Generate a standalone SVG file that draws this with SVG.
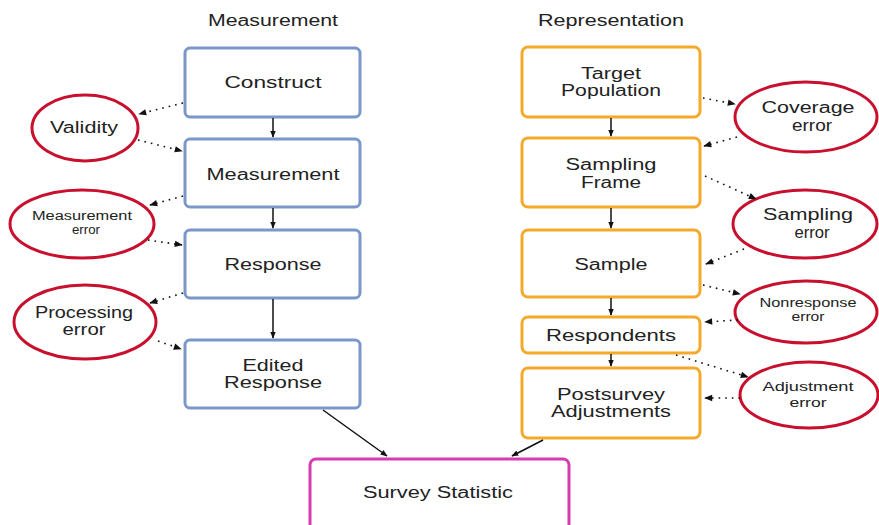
<svg xmlns="http://www.w3.org/2000/svg" width="879" height="525" viewBox="0 0 879 525">
<defs>
<marker id="ah" viewBox="0 0 10 10" refX="9" refY="5" markerWidth="7" markerHeight="7" orient="auto" markerUnits="userSpaceOnUse"><path d="M0,1 L10,5 L0,9 z" fill="#111"/></marker>
<marker id="ahd" viewBox="0 0 10 10" refX="9" refY="5" markerWidth="9" markerHeight="8" orient="auto" markerUnits="userSpaceOnUse"><path d="M0,1 L10,5 L0,9 z" fill="#111"/></marker>
</defs>
<style>
text{font-family:"Liberation Sans",Arial,sans-serif;fill:#222;text-anchor:middle}
.m{font-size:16px}
.s{font-size:12.5px}
.bl{fill:#fff;stroke:#7b96c9;stroke-width:3}
.or{fill:#fff;stroke:#f5a92a;stroke-width:3}
.pk{fill:#fff;stroke:#d63cb0;stroke-width:3}
.el{fill:#fff;stroke:#c8102e;stroke-width:3}
.solid{stroke:#111;stroke-width:1.5;fill:none;marker-end:url(#ah)}
.dot{stroke:#111;stroke-width:1.6;fill:none;stroke-dasharray:1.6 5;marker-end:url(#ahd)}
</style>
<rect width="879" height="525" fill="#fff"/>
<text class="m" x="273" y="26" textLength="130" lengthAdjust="spacingAndGlyphs">Measurement</text>
<text class="m" x="611" y="26" textLength="146" lengthAdjust="spacingAndGlyphs">Representation</text>

<g id="construct"><rect class="bl" x="185" y="48" width="175" height="69" rx="5"/><text class="m" x="273" y="88" textLength="97" lengthAdjust="spacingAndGlyphs">Construct</text></g>
<g id="measurement"><rect class="bl" x="185" y="139" width="175" height="68" rx="5"/><text class="m" x="273" y="180" textLength="133" lengthAdjust="spacingAndGlyphs">Measurement</text></g>
<g id="response"><rect class="bl" x="185" y="230" width="175" height="68" rx="5"/><text class="m" x="273" y="270" textLength="97" lengthAdjust="spacingAndGlyphs">Response</text></g>
<g id="edited"><rect class="bl" x="185" y="340" width="175" height="68" rx="5"/><text class="m" x="273" y="371" textLength="61" lengthAdjust="spacingAndGlyphs">Edited</text><text class="m" x="273" y="388" textLength="98" lengthAdjust="spacingAndGlyphs">Response</text></g>

<g id="target"><rect class="or" x="522" y="47" width="178" height="70" rx="6"/><text class="m" x="611" y="79" textLength="60" lengthAdjust="spacingAndGlyphs">Target</text><text class="m" x="611" y="96" textLength="100" lengthAdjust="spacingAndGlyphs">Population</text></g>
<g id="frame"><rect class="or" x="522" y="138" width="178" height="69" rx="6"/><text class="m" x="611" y="170" textLength="91" lengthAdjust="spacingAndGlyphs">Sampling</text><text class="m" x="611" y="188" textLength="60" lengthAdjust="spacingAndGlyphs">Frame</text></g>
<g id="sample"><rect class="or" x="522" y="230" width="178" height="67" rx="6"/><text class="m" x="611" y="270" textLength="73" lengthAdjust="spacingAndGlyphs">Sample</text></g>
<g id="respondents"><rect class="or" x="522" y="317" width="178" height="36" rx="6"/><text class="m" x="611" y="341" textLength="130" lengthAdjust="spacingAndGlyphs">Respondents</text></g>
<g id="postsurvey"><rect class="or" x="522" y="368" width="178" height="70" rx="6"/><text class="m" x="611" y="400" textLength="108" lengthAdjust="spacingAndGlyphs">Postsurvey</text><text class="m" x="611" y="417" textLength="120" lengthAdjust="spacingAndGlyphs">Adjustments</text></g>

<g id="statistic"><rect class="pk" x="310" y="459" width="259" height="80" rx="6"/><text class="m" x="438" y="498" textLength="150" lengthAdjust="spacingAndGlyphs">Survey Statistic</text></g>

<g id="validity"><ellipse class="el" cx="85" cy="128" rx="53" ry="33"/><text class="m" x="84" y="133" textLength="68" lengthAdjust="spacingAndGlyphs">Validity</text></g>
<g id="merror"><ellipse class="el" cx="82" cy="224" rx="72" ry="34"/><text class="s" x="82" y="220" textLength="100" lengthAdjust="spacingAndGlyphs">Measurement</text><text class="s" x="86" y="234" textLength="28" lengthAdjust="spacingAndGlyphs">error</text></g>
<g id="perror"><ellipse class="el" cx="85" cy="322" rx="71" ry="37"/><text class="m" x="84" y="318" textLength="98" lengthAdjust="spacingAndGlyphs">Processing</text><text class="m" x="84" y="335" textLength="43" lengthAdjust="spacingAndGlyphs">error</text></g>
<g id="coverage"><ellipse class="el" cx="806" cy="117" rx="71" ry="35"/><text class="m" x="808" y="113" textLength="93" lengthAdjust="spacingAndGlyphs">Coverage</text><text class="m" x="812" y="131" textLength="40" lengthAdjust="spacingAndGlyphs">error</text></g>
<g id="serror"><ellipse class="el" cx="805" cy="224" rx="72" ry="34"/><text class="m" x="808" y="220" textLength="90" lengthAdjust="spacingAndGlyphs">Sampling</text><text class="m" x="812" y="238" textLength="35" lengthAdjust="spacingAndGlyphs">error</text></g>
<g id="nerror"><ellipse class="el" cx="806" cy="312" rx="71" ry="31"/><text class="s" x="808" y="307" textLength="97" lengthAdjust="spacingAndGlyphs">Nonresponse</text><text class="s" x="808" y="321" textLength="33" lengthAdjust="spacingAndGlyphs">error</text></g>
<g id="aerror"><ellipse class="el" cx="809" cy="395" rx="69" ry="33"/><text class="s" x="808" y="391" textLength="91" lengthAdjust="spacingAndGlyphs">Adjustment</text><text class="s" x="808" y="407" textLength="37" lengthAdjust="spacingAndGlyphs">error</text></g>

<g id="connectors">
<line class="solid" x1="273" y1="118" x2="273" y2="137"/>
<line class="solid" x1="273" y1="208" x2="273" y2="228"/>
<line class="solid" x1="273" y1="299" x2="273" y2="338"/>
<line class="solid" x1="611" y1="118" x2="611" y2="136"/>
<line class="solid" x1="611" y1="208" x2="611" y2="228"/>
<line class="solid" x1="611" y1="298" x2="611" y2="315"/>
<line class="solid" x1="611" y1="354" x2="611" y2="366"/>
<line class="solid" x1="323" y1="410" x2="387" y2="456"/>
<line class="solid" x1="543" y1="440" x2="512" y2="456"/>

<line class="dot" x1="183" y1="103" x2="139" y2="114"/>
<line class="dot" x1="138" y1="140" x2="182" y2="151"/>
<line class="dot" x1="183" y1="196" x2="150" y2="205"/>
<line class="dot" x1="148" y1="240" x2="182" y2="245"/>
<line class="dot" x1="183" y1="293" x2="150" y2="303"/>
<line class="dot" x1="158" y1="341" x2="181" y2="349"/>

<line class="dot" x1="703" y1="98" x2="735" y2="104"/>
<line class="dot" x1="737" y1="137" x2="704" y2="146"/>
<line class="dot" x1="705" y1="176" x2="756" y2="199"/>
<line class="dot" x1="744" y1="249" x2="706" y2="264"/>
<line class="dot" x1="703" y1="285" x2="740" y2="294"/>
<line class="dot" x1="738" y1="320" x2="705" y2="322"/>
<line class="dot" x1="676" y1="355" x2="748" y2="377"/>
<line class="dot" x1="740" y1="398" x2="705" y2="398"/>
</g>
</svg>
